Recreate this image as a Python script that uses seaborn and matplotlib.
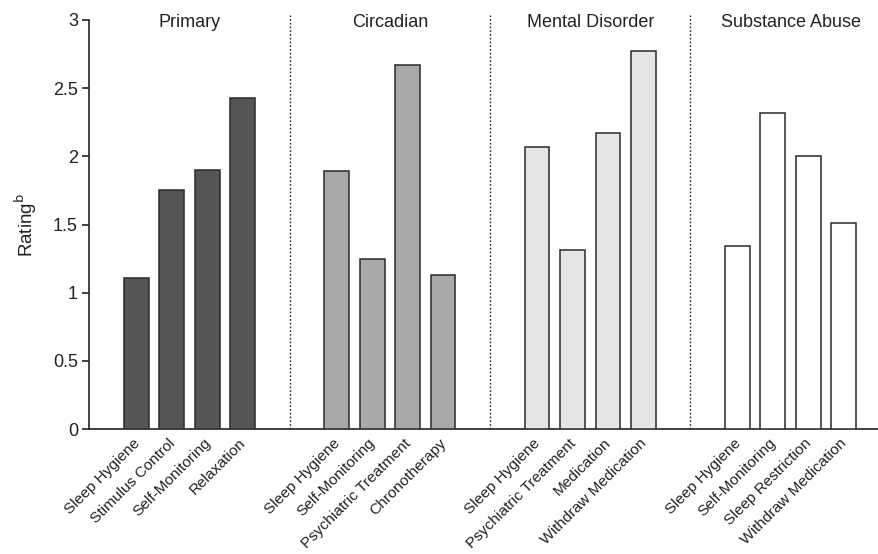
import matplotlib
matplotlib.use("Agg")
import matplotlib.pyplot as plt
import matplotlib.transforms as mtransforms
import seaborn as sns
import pandas as pd

groups = ["Primary", "Circadian", "Mental Disorder", "Substance Abuse"]
treatments = [
    ["Sleep Hygiene", "Stimulus Control", "Self-Monitoring", "Relaxation"],
    ["Sleep Hygiene", "Self-Monitoring", "Psychiatric Treatment", "Chronotherapy"],
    ["Sleep Hygiene", "Psychiatric Treatment", "Medication", "Withdraw Medication"],
    ["Sleep Hygiene", "Self-Monitoring", "Sleep Restriction", "Withdraw Medication"],
]
ratings = [
    [1.11, 1.75, 1.90, 2.43],
    [1.89, 1.25, 2.67, 1.13],
    [2.07, 1.31, 2.17, 2.77],
    [1.34, 2.32, 2.00, 1.51],
]
group_colors = ["#55565a", "#a8a9ac", "#e5e6e7", "#ffffff"]
y_ticks = [0, 0.5, 1, 1.5, 2, 2.5, 3]

# layout: bars one unit apart, groups separated by a wider gap
group_stride = 5.66
rows = []
for g, (grp, names, vals) in enumerate(zip(groups, treatments, ratings)):
    for i, (n, v) in enumerate(zip(names, vals)):
        rows.append({"group": grp, "treatment": n, "rating": v,
                     "pos": g * group_stride + i})
df = pd.DataFrame(rows)

sns.set_theme(style="ticks")
plt.rcParams["font.family"] = ["Liberation Sans", "DejaVu Sans"]

fig = plt.figure(figsize=(8.79, 5.54), dpi=100)
ax = fig.add_axes([0.1013, 0.2256, 0.8987, 0.7383])

sns.barplot(data=df, x="pos", y="rating", hue="group", hue_order=groups,
            palette=dict(zip(groups, group_colors)), native_scale=True,
            dodge=False, width=0.7, edgecolor="#2a2a2a", linewidth=1.1,
            legend=False, ax=ax, zorder=3)

ax.set_xlim(-1.34, 3 * group_stride + 3 + 1.0)
ax.set_ylim(0, 3)
ax.set_yticks(y_ticks)
ax.set_yticklabels([f"{t:g}" for t in y_ticks], fontsize=13, color="#222222")
ax.set_xticks(df["pos"])
ax.set_xticklabels([])
ax.tick_params(axis="x", length=0)
ax.tick_params(axis="y", length=5, width=1.2, color="#222222", pad=3)

# slanted treatment names, each ending just below its bar
label_tr = (mtransforms.blended_transform_factory(ax.transData, ax.transAxes)
            + mtransforms.ScaledTranslation(-4 / 100, -7 / 100,
                                            fig.dpi_scale_trans))
for pos, name in zip(df["pos"], df["treatment"]):
    ax.text(pos, 0, name, transform=label_tr, rotation=45,
            rotation_mode="anchor", ha="right", va="top",
            fontsize=11.1, color="#222222")

ax.set_xlabel("")
ax.set_ylabel(r"Rating$^{\mathrm{b}}$", fontsize=13.5, labelpad=10,
              color="#222222")

for s in ["top", "right"]:
    ax.spines[s].set_visible(False)
for s in ["left", "bottom"]:
    ax.spines[s].set_linewidth(1.2)
    ax.spines[s].set_color("#222222")

# dotted separators between groups and group titles
for g in range(len(groups)):
    center = g * group_stride + 1.5
    ax.text(center, 2.98, groups[g], ha="center", va="center",
            fontsize=13, color="#222222")
    if g < len(groups) - 1:
        sep = g * group_stride + 3 + (group_stride - 3) / 2
        ax.axvline(sep, ymin=0, ymax=1.012, color="#222222",
                   linestyle=(0, (1.2, 1.5)), linewidth=1.0, zorder=1,
                   clip_on=False)

fig.savefig("out.png", dpi=100)
